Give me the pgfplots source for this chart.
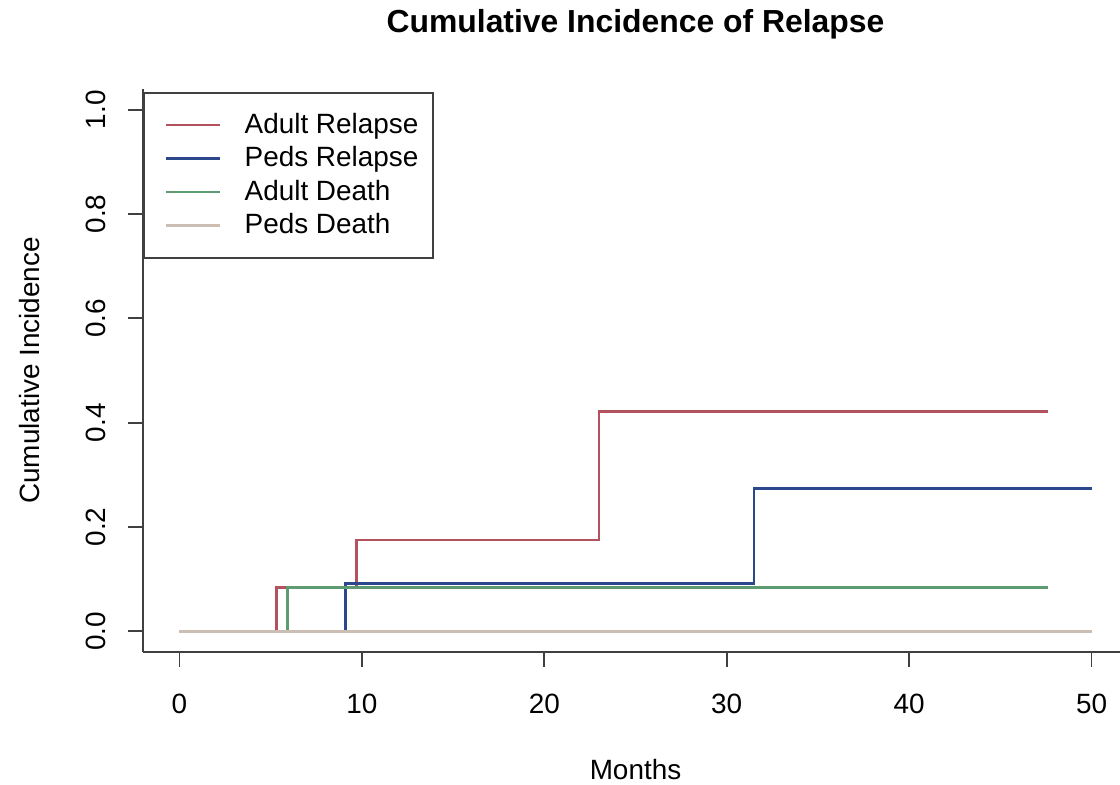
\documentclass[border=0pt]{standalone}
\usepackage{pgfplots}
\pgfplotsset{compat=1.18}
\usepackage{fontspec}
\setmainfont{Liberation Sans}
\definecolor{cRed}{RGB}{178,82,92}
\definecolor{cBlue}{RGB}{44,72,140}
\definecolor{cGreen}{RGB}{95,155,112}
\definecolor{cTan}{RGB}{205,190,180}
\begin{document}
\begin{tikzpicture}
\useasboundingbox (-71.5bp,-66.5bp) rectangle (488.5bp,326bp);
\begin{axis}[
  at={(0,0)}, anchor=south west,
  scale only axis,
  width=492.5bp, height=281.5bp,
  xmin=-2, xmax=52, ymin=-0.04, ymax=1.04,
  axis x line*=bottom, axis y line*=left,
  axis line style={line width=0.9bp, black!75},
  tick style={line width=0.9bp, black!75},
  tick align=outside,
  major tick length=7.5bp,
  xtick={0,10,20,30,40,50},
  ytick={0,0.2,0.4,0.6,0.8,1.0},
  /pgf/number format/assume math mode=true,
  yticklabel style={/pgf/number format/fixed, /pgf/number format/fixed zerofill, /pgf/number format/precision=1},
  yticklabel style={rotate=90, anchor=south, yshift=7.5bp},
  xticklabel style={yshift=-10bp},
  tick label style={font=\fontsize{14}{16}\selectfont},
  label style={font=\fontsize{14}{16}\selectfont},
  xlabel={Months},
  ylabel={Cumulative Incidence},
  xlabel style={at={(axis description cs:0.5,-0.2096)}, anchor=center},
  ylabel style={at={(axis description cs:-0.1147,0.5)}, anchor=center},
  title={Cumulative Incidence of Relapse},
  title style={at={(axis description cs:0.5,1.094)}, anchor=center, font=\fontsize{16}{18}\selectfont\bfseries},
  clip=false,
  legend cell align=left,
  legend image code/.code={\path (-6.5bp,0bp) (35bp,0bp); \draw[#1] (0bp,0bp) -- (27bp,0bp);},
  legend style={at={(axis description cs:0,0.995)}, anchor=north west,
    draw=black!75, line width=0.9bp,
    font=\fontsize{14}{16}\selectfont,
    inner xsep=4bp, inner ysep=7.75bp, row sep=0bp,
    nodes={inner xsep=3.5bp, inner ysep=0bp, text height=12.5bp, text depth=4.25bp}},
]
\addplot[const plot, cRed, line width=1.4bp] coordinates {(0,0) (5.3,0.083) (9.7,0.175) (23.0,0.422) (47.6,0.422)};
\addlegendentry{Adult Relapse}
\addplot[const plot, cBlue, line width=1.4bp] coordinates {(0,0) (9.1,0.091) (31.5,0.273) (50,0.273)};
\addlegendentry{Peds Relapse}
\addplot[const plot, cGreen, line width=1.4bp] coordinates {(0,0) (5.9,0.083) (47.6,0.083)};
\addlegendentry{Adult Death}
\addplot[const plot, cTan, line width=1.4bp] coordinates {(0,0) (50,0)};
\addlegendentry{Peds Death}
\end{axis}
\end{tikzpicture}
\end{document}
